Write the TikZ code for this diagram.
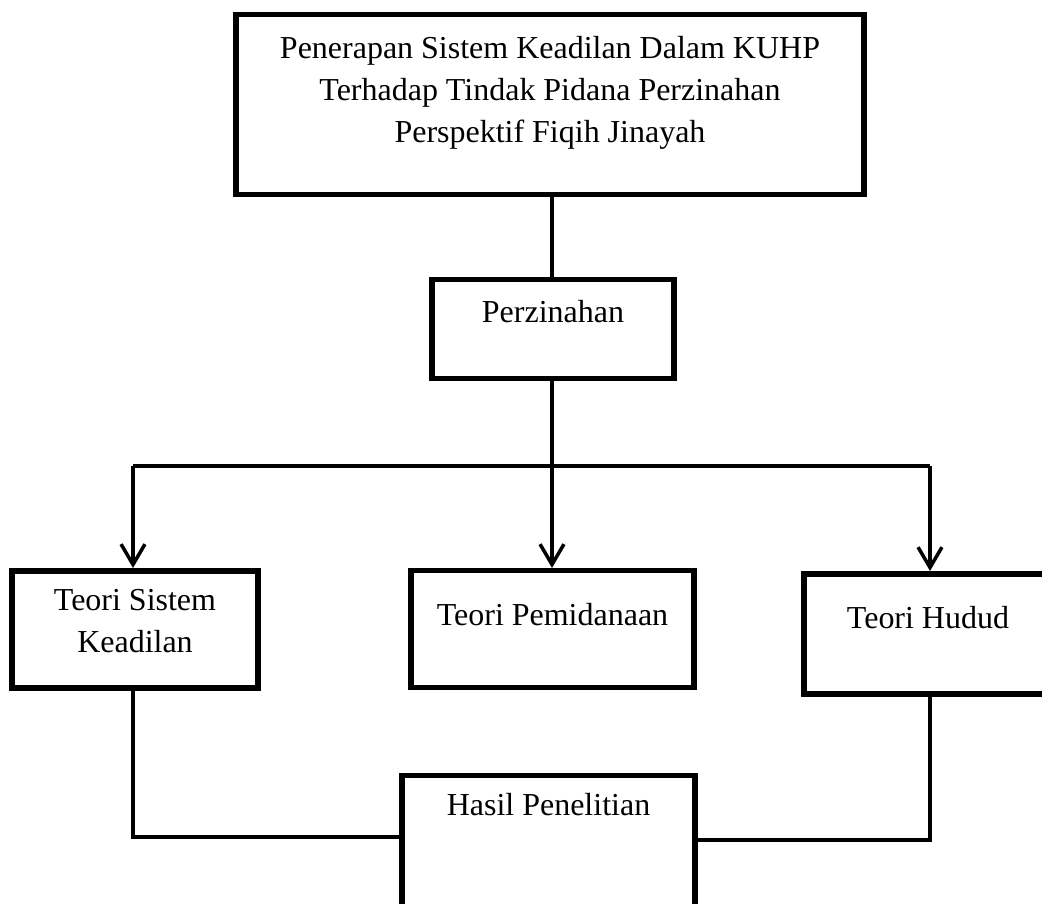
\documentclass[tikz,border=0pt]{standalone}
\usepackage{fontspec}
\setmainfont{Liberation Serif}
\usepackage{tikz}
\usetikzlibrary{arrows.meta, positioning}
\tikzset{>={Straight Barb[length=5.5pt,width=6.5pt,line width=1pt]}}

\begin{document}
\begin{tikzpicture}[>={Straight Barb[length=5.8pt,width=6.8pt,line width=1pt]}, line width=1.05pt,
	kotak/.style={draw, line width=1.45pt, anchor=north, inner sep=0pt, align=center,
		font=\fontsize{9.1pt}{12pt}\selectfont}]

			\useasboundingbox (0,0) rectangle (10.42,-9.03);

			\node[kotak, minimum width=6.28cm, text height=1.28cm, text depth=0.52cm] (judul) at (5.50,-0.12)
				{Penerapan Sistem Keadilan Dalam KUHP\\Terhadap Tindak Pidana Perzinahan\\Perspektif Fiqih Jinayah};
			\node[kotak, minimum width=2.42cm, text height=0.43cm, text depth=0.56cm] (zina) at (5.53,-2.77) {Perzinahan};
			\node[kotak, minimum width=2.46cm, text height=0.82cm, text depth=0.35cm, line width=1.6pt] (keadilan) at (1.35,-5.68)
				{Teori Sistem\\Keadilan};
			\node[kotak, minimum width=2.83cm, text height=0.55cm, text depth=0.62cm] (pidana) at (5.525,-5.68) {Teori Pemidanaan};
			\node[kotak, minimum width=2.48cm, text height=0.55cm, text depth=0.65cm, line width=1.6pt] (hudud) at (9.28,-5.71) {Teori Hudud};
			\node[kotak, minimum width=2.93cm, text height=0.40cm, text depth=1.30cm] (hasil) at (5.485,-7.73) {Hasil Penelitian};

			\coordinate (cabang) at (5.52,-4.66);
			\coordinate (kiri) at (1.33,-4.66);
			\coordinate (kanan) at (9.30,-4.66);
			\coordinate (kiribawah) at (1.33,-8.37);
			\coordinate (kananbawah) at (9.30,-8.40);

			\draw (judul.south -| cabang)--(zina.north -| cabang);
			\draw [->] (zina.south -| cabang)--(pidana.north -| cabang);
			\draw (kiri)--(kanan);
			\draw [->] (kiri)--(keadilan.north -| kiri);
			\draw [->] (kanan)--(hudud.north -| kanan);
			\draw (keadilan.south -| kiri)--(kiribawah)--(kiribawah -| hasil.west);
			\draw (hudud.south -| kanan)--(kananbawah)--(kananbawah -| hasil.east);

			\end{tikzpicture}
\end{document}
